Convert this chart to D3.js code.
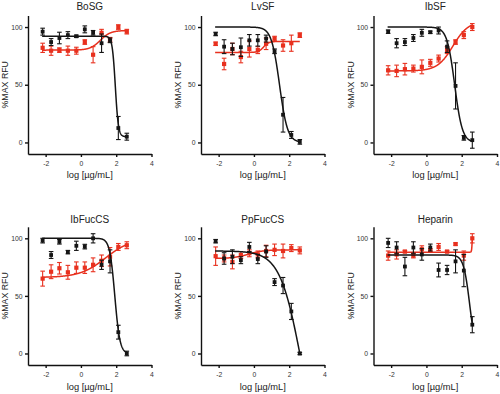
<!DOCTYPE html>
<html>
<head>
<meta charset="utf-8">
<script src="https://cdn.jsdelivr.net/npm/d3@7"></script>
<style>
  body { margin: 0; background: #fff; }
  svg { display: block; font-family: "Liberation Sans", Arial, sans-serif; }
  .axis path, .axis line { stroke: #111; stroke-width: 1.4; }
  .axis text { font-size: 6.8px; fill: #333; }
</style>
</head>
<body>
<svg width="500" height="394"></svg>
<script>
// concentrations, log ug/mL (3-fold dilution series)
const logConc = [-2.17, -1.69, -1.22, -0.74, -0.26, 0.22, 0.69, 1.17, 1.65, 2.12, 2.60];
const titles = ["BoSG", "LvSF", "IbSF", "IbFucCS", "PpFucCS", "Heparin"];
const xTicks = [-2, 0, 2, 4];
const yTicks = [0, 50, 100];

// black series (mean, sem)
const blackMean = [
  [96, 87, 90.5, 93, 92, 98, 95, 86, 88.5, 12.5, 5],
  [94, 83, 81, 82.5, 88.5, 88.5, 90, 79, 24, 6.5, 0.5],
  [96, 86, 87, 90.5, 95, 95.5, 97, 83, 49, 4, 2],
  [98, 85.5, 97, 88, 93.5, 92.8, 100, 77, 80, 18.5, 0],
  [97.5, 82.5, 84, 81, 92.5, 82, 88.5, 62, 59, 36.5, 0],
  [96, 92, 75.5, 92, 86, 92, 72.5, 72.5, 80, 72, 25]
];
const blackErr = [
  [3, 3, 5, 3, 1, 3, 2, 8, 2, 10, 3],
  [1.5, 6, 5, 8, 5, 5, 3, 2, 15, 3, 2],
  [1.5, 4, 3, 3, 3, 1, 3, 5, 20, 2, 7],
  [2, 3, 2, 1.5, 4, 2, 4, 4, 10, 6, 2],
  [1.5, 5, 6, 3, 4, 4, 5, 3, 7, 7, 1],
  [4, 5, 8, 5, 5, 3, 6, 4, 10, 14, 7]
];
// red series (mean, sem)
const redMean = [
  [82, 79.5, 80, 79.5, 79.5, 87, 76, 95, 89, 100, 96],
  [85.5, 68, 81, 74, 81, 80, 85.5, 90, 84, 86, 93],
  [62.5, 62, 63.5, 64, 65.5, 69, 72.7, 80, 87, 93, 100],
  [65, 71, 74, 70.5, 74.5, 74.5, 77, 80.5, 84, 92.5, 94],
  [84.5, 82.5, 79.5, 85.5, 87, 86, 89, 90, 89, 91.5, 89.5],
  [85, 86, 88.5, 85, 90.5, 89.5, 92.5, 88.5, 95, 85, 100]
];
const redErr = [
  [4, 4, 2, 4, 3, 2, 7, 3, 2, 2, 2],
  [1.5, 5, 5, 5, 7, 3, 5, 2, 5, 7, 2],
  [4, 5, 5, 3, 6, 3, 3, 3, 2, 3, 3],
  [6.5, 6, 5, 6, 5, 5, 6, 5, 8, 3, 3],
  [8, 3, 6, 3, 3, 3, 5, 5, 6, 3, 3],
  [4, 4, 1, 2, 3, 1.5, 3, 1, 1, 4, 4]
];
// fitted 4PL curves: [bottom, top, logEC50, hill]
const blackFit = [
  [5, 92, 1.95, -5],
  [0, 100, 1.45, -1.9],
  [0, 100, 1.6, -2],
  [0, 100, 1.92, -3],
  [-100, 89, 2.67, -0.725],
  [0, 85.5, 2.45, -2.5]
];
const redFit = [
  [80, 97, 1.1, 1.5],
  [78, 87.5, 0.55, 3],
  [62, 105, 1.5, 1],
  [66, 100, 1.4, 0.6],
  [82.5, 90, -0.3, 1],
  [88, 112, 2.6, 25]
];

const BLACK = "#151515", RED = "#e8301e";
const svg = d3.select("svg");
const colX = [28, 201, 373.5];
const rowY = [[154, 15.5], [365, 226.8]];
const titleY = [9.5, 222.5];
const labelY = [177.5, 390];
const pw = 123.5;

function logistic(p, x) {
  return p[0] + (p[1] - p[0]) / (1 + Math.pow(10, (p[2] - x) * p[3]));
}

titles.forEach((t, i) => {
  const col = i % 3, row = Math.floor(i / 3);
  const x = d3.scaleLinear().domain([-3, 4]).range([colX[col], colX[col] + pw]);
  const y = d3.scaleLinear().domain([-10, 110]).range(rowY[row]);
  const g = svg.append("g");

  g.append("g").attr("class", "axis")
    .attr("transform", `translate(0,${rowY[row][0]})`)
    .call(d3.axisBottom(x).tickValues(xTicks).tickFormat(d => String(d))
      .tickSize(3).tickPadding(4).tickSizeOuter(0));
  g.append("g").attr("class", "axis")
    .attr("transform", `translate(${colX[col]},0)`)
    .call(d3.axisLeft(y).tickValues(yTicks).tickFormat(d => String(d))
      .tickSize(3).tickPadding(2.5).tickSizeOuter(0));
  g.selectAll(".axis text").attr("fill", "#333");

  g.append("text").attr("x", x(0.5)).attr("y", titleY[row])
    .attr("text-anchor", "middle").attr("font-size", 10).attr("fill", "#222").text(t);
  g.append("text").attr("x", x(0.5)).attr("y", labelY[row])
    .attr("text-anchor", "middle").attr("font-size", 9.3).attr("fill", "#222").text("log [µg/mL]");
  g.append("text")
    .attr("transform", `translate(${colX[col] - 20},${y(50)}) rotate(-90)`)
    .attr("text-anchor", "middle").attr("font-size", 8.8).attr("fill", "#222").text("%MAX RFU");

  const xs = d3.range(0, 401).map(k => -2.2 + k * 4.8 / 400);
  const line = d3.line().x(d => x(d[0])).y(d => y(d[1]));

  const series = [
    {mean: redMean[i], err: redErr[i], fit: redFit[i], color: RED, size: 4.2},
    {mean: blackMean[i], err: blackErr[i], fit: blackFit[i], color: BLACK, size: 3.8}
  ];
  // red first, black over it
  series.forEach(s => {
    g.append("path").datum(xs.map(v => [v, logistic(s.fit, v)]))
      .attr("d", line).attr("fill", "none").attr("stroke", s.color).attr("stroke-width", 1.5);
    const pts = logConc.map((c, k) => ({c: c, m: s.mean[k], e: s.err[k]}));
    const eb = g.append("g").attr("stroke", s.color).attr("stroke-width", 1.1);
    pts.forEach(p => {
      eb.append("line").attr("x1", x(p.c)).attr("x2", x(p.c)).attr("y1", y(p.m - p.e)).attr("y2", y(p.m + p.e));
      eb.append("line").attr("x1", x(p.c) - 2.3).attr("x2", x(p.c) + 2.3).attr("y1", y(p.m - p.e)).attr("y2", y(p.m - p.e));
      eb.append("line").attr("x1", x(p.c) - 2.3).attr("x2", x(p.c) + 2.3).attr("y1", y(p.m + p.e)).attr("y2", y(p.m + p.e));
    });
    g.append("g").selectAll("rect").data(pts).join("rect")
      .attr("x", p => x(p.c) - s.size / 2).attr("y", p => y(p.m) - s.size / 2)
      .attr("width", s.size).attr("height", s.size).attr("fill", s.color);
  });
});
</script>
</body>
</html>
